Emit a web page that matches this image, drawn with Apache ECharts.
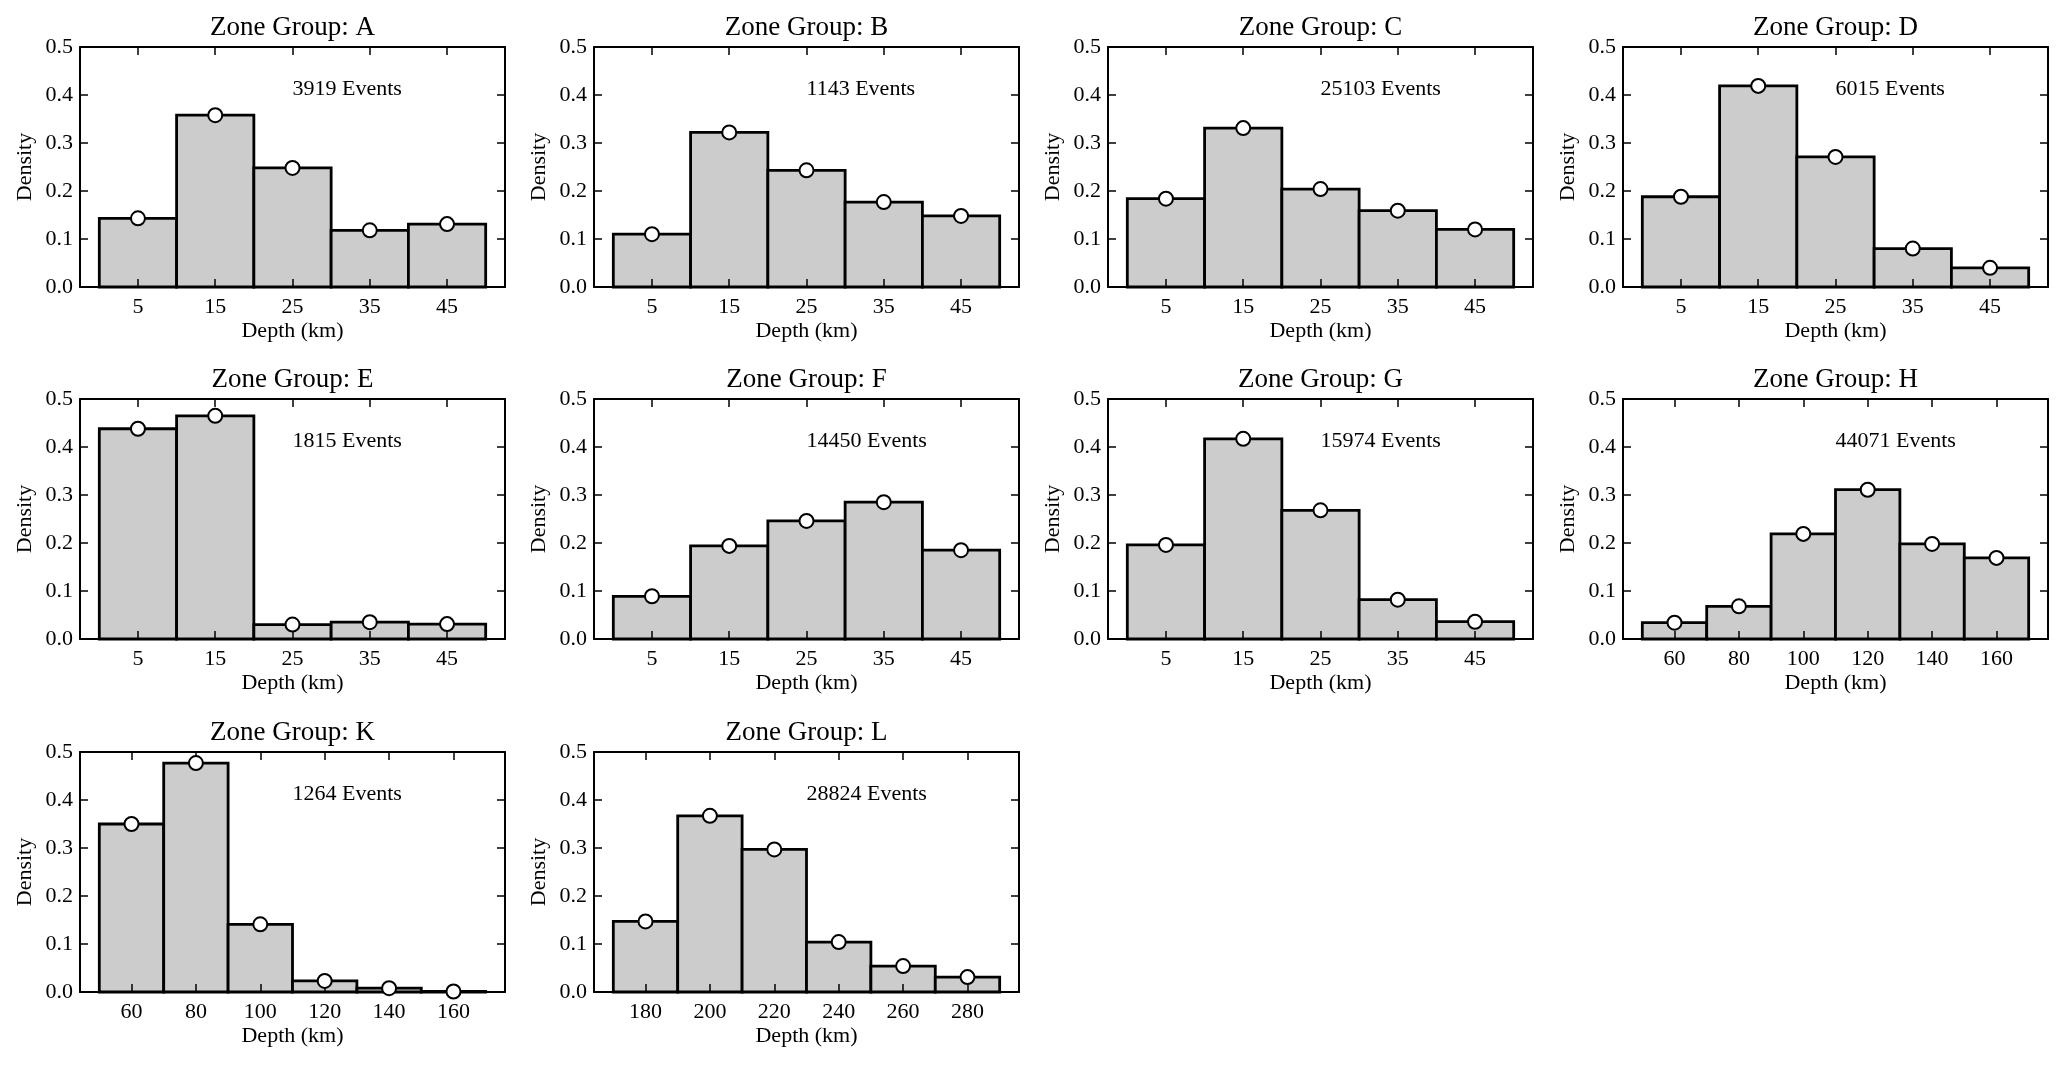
<!DOCTYPE html>
<html><head><meta charset="utf-8">
<script src="https://cdn.jsdelivr.net/npm/echarts@6/dist/echarts.min.js"></script>
<style>html,body{margin:0;padding:0;background:#fff}#c{width:2067px;height:1065px}</style>
</head><body><div id="c"></div>
<script>
// ---- data ----
const zoneNames = ['A','B','C','D','E','F','G','H','K','L'];
const eventCounts = [3919, 1143, 25103, 6015, 1815, 14450, 15974, 44071, 1264, 28824];
const shallowCenters = [5, 15, 25, 35, 45];
const midCenters = [60, 80, 100, 120, 140, 160];
const deepCenters = [180, 200, 220, 240, 260, 280];
const densityA = [0.143, 0.358, 0.248, 0.118, 0.131];
const densityB = [0.110, 0.322, 0.243, 0.177, 0.148];
const densityC = [0.184, 0.331, 0.204, 0.159, 0.120];
const densityD = [0.188, 0.419, 0.271, 0.080, 0.040];
const densityE = [0.438, 0.465, 0.030, 0.035, 0.031];
const densityF = [0.089, 0.194, 0.246, 0.285, 0.185];
const densityG = [0.196, 0.417, 0.268, 0.082, 0.036];
const densityH = [0.034, 0.068, 0.219, 0.311, 0.198, 0.169];
const densityK = [0.350, 0.477, 0.141, 0.023, 0.008, 0.001];
const densityL = [0.147, 0.367, 0.297, 0.104, 0.054, 0.031];
const yTicks = [0, 0.1, 0.2, 0.3, 0.4, 0.5];

const panels = [
  {c: shallowCenters, d: densityA, w: 10},
  {c: shallowCenters, d: densityB, w: 10},
  {c: shallowCenters, d: densityC, w: 10},
  {c: shallowCenters, d: densityD, w: 10},
  {c: shallowCenters, d: densityE, w: 10},
  {c: shallowCenters, d: densityF, w: 10},
  {c: shallowCenters, d: densityG, w: 10},
  {c: midCenters, d: densityH, w: 20},
  {c: midCenters, d: densityK, w: 20},
  {c: deepCenters, d: densityL, w: 20}
];

// ---- layout ----
const colLeft = [80, 594, 1108, 1623];
const rowTop = [47, 399, 752];
const W = 425, H = 240;
const FONT = 'Liberation Serif';

const grids = [], xAxes = [], yAxes = [], series = [], graphics = [];
panels.forEach((p, i) => {
  const col = i % 4, row = Math.floor(i / 4);
  const left = colLeft[col], top = rowTop[row];
  grids.push({left: left, top: top, width: W, height: H, containLabel: false});
  const lo = p.c[0] - p.w / 2, hi = p.c[p.c.length - 1] + p.w / 2;
  const pad = (hi - lo) * 0.05;
  const xmin = lo - pad, xmax = hi + pad;
  const tickStyle = {show: true, inside: true, length: 8, lineStyle: {color: '#000', width: 1.5}};
  const lineStyle = {show: true, onZero: false, lineStyle: {color: '#000', width: 2}};
  xAxes.push({
    type: 'value', gridIndex: i, min: xmin, max: xmax, position: 'bottom', z: 3,
    axisLine: lineStyle,
    axisTick: Object.assign({customValues: p.c}, tickStyle),
    axisLabel: {show: true, margin: 9, color: '#000', fontSize: 22, fontFamily: FONT, customValues: p.c},
    splitLine: {show: false},
    name: 'Depth (km)', nameLocation: 'middle', nameGap: 33,
    nameTextStyle: {color: '#000', fontSize: 22, fontFamily: FONT}
  });
  xAxes.push({
    type: 'value', gridIndex: i, min: xmin, max: xmax, position: 'top', z: 3,
    axisLine: lineStyle,
    axisTick: Object.assign({customValues: p.c}, tickStyle),
    axisLabel: {show: false}, splitLine: {show: false}
  });
  yAxes.push({
    type: 'value', gridIndex: i, min: 0, max: 0.5, interval: 0.1, position: 'left', z: 3,
    axisLine: lineStyle, axisTick: tickStyle,
    axisLabel: {show: true, margin: 7, color: '#000', fontSize: 22, fontFamily: FONT,
      formatter: v => v.toFixed(1)},
    splitLine: {show: false},
    name: 'Density', nameLocation: 'middle', nameGap: 44,
    nameTextStyle: {color: '#000', fontSize: 22, fontFamily: FONT}
  });
  yAxes.push({
    type: 'value', gridIndex: i, min: 0, max: 0.5, interval: 0.1, position: 'right', z: 3,
    axisLine: lineStyle, axisTick: tickStyle,
    axisLabel: {show: false}, splitLine: {show: false}
  });
  const bins = p.c.map((c, k) => [c - p.w / 2, c + p.w / 2, p.d[k]]);
  series.push({
    type: 'custom', xAxisIndex: 2 * i, yAxisIndex: 2 * i, z: 2,
    data: bins, encode: {x: [0, 1], y: 2}, silent: true,
    renderItem: function (params, api) {
      const a = api.coord([api.value(0), api.value(2)]);
      const b = api.coord([api.value(1), 0]);
      return {type: 'rect', shape: {x: a[0], y: a[1], width: b[0] - a[0], height: b[1] - a[1]},
        style: {fill: '#cccccc', stroke: '#000', lineWidth: 2.8}};
    }
  });
  series.push({
    type: 'scatter', xAxisIndex: 2 * i, yAxisIndex: 2 * i, z: 5,
    data: p.c.map((c, k) => [c, p.d[k]]), symbol: 'circle', symbolSize: 14,
    itemStyle: {color: '#fff', borderColor: '#000', borderWidth: 2, opacity: 1}, silent: true
  });
  graphics.push({type: 'text', x: left + W / 2, y: top - 19.5, z: 10,
    style: {text: 'Zone Group: ' + zoneNames[i], font: '27px "' + FONT + '"', fill: '#000',
      textAlign: 'center', textVerticalAlign: 'middle'}});
  graphics.push({type: 'text', x: left + W * 0.5, y: top + 42.5, z: 10,
    style: {text: eventCounts[i] + ' Events', font: '22px "' + FONT + '"', fill: '#000',
      textAlign: 'left', textVerticalAlign: 'middle'}});
});

const chart = echarts.init(document.getElementById('c'), null, {renderer: 'canvas'});
chart.setOption({
  animation: false, backgroundColor: '#fff',
  grid: grids, xAxis: xAxes, yAxis: yAxes, series: series, graphic: graphics
});
</script></body></html>
